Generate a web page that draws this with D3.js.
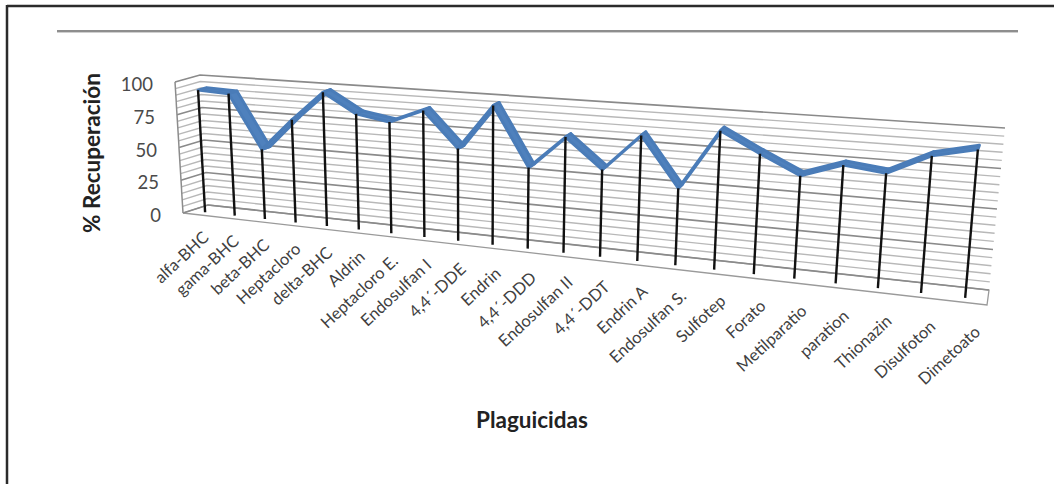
<!DOCTYPE html>
<html>
<head>
<meta charset="utf-8">
<script src="https://cdn.jsdelivr.net/npm/d3@7"></script>
<style>
  body { margin: 0; background: #fff; }
  svg { display: block; }
  text { font-family: Lato, "Open Sans", sans-serif; }
</style>
</head>
<body>
<svg id="chart" width="1054" height="484"></svg>
<script>
// Pesticide recovery data
const categories = ["alfa-BHC", "gama-BHC", "beta-BHC", "Heptacloro", "delta-BHC", "Aldrin",
  "Heptacloro E.", "Endosulfan I", "4,4´-DDE", "Endrin", "4,4´-DDD", "Endosulfan II",
  "4,4´-DDT", "Endrin A", "Endosulfan S.", "Sulfotep", "Forato", "Metilparatio",
  "paration", "Thionazin", "Disulfoton", "Dimetoato"];
const recovery = [93, 92, 52, 76, 98, 84, 80, 90, 65, 97, 56, 79, 59, 84, 51, 91, 78, 66, 75, 72, 85, 91];
const valueTicks = [0, 25, 50, 75, 100];
const gridValues = d3.range(0, 101, 5);

const svg = d3.select("#chart");

// Scales in normalized box space
const x = d3.scalePoint().domain(categories).range([0, 1]).padding(0.5);
const y = d3.scaleLinear().domain([0, 100]).range([0, 1]);

// Screen corners of the 3D plot box (front/back, left/right, bottom/top)
const box = {
  flb: [183, 213], flt: [175, 82], blb: [208, 205], blt: [200, 75],
  frb: [987, 305], frt: [1001, 140], brb: [989, 290], brt: [1005, 128]
};
const persp = -0.197;
const warp = u => u * (1 + persp) / (1 + persp * u);
const lerp = (a, b, s) => [a[0] + (b[0] - a[0]) * s, a[1] + (b[1] - a[1]) * s];
function project(u, t, d) {
  const g = warp(u);
  const fb = lerp(box.flb, box.frb, g), ft = lerp(box.flt, box.frt, g);
  const bb = lerp(box.blb, box.brb, g), bt = lerp(box.blt, box.brt, g);
  return lerp(lerp(fb, ft, t), lerp(bb, bt, t), d);
}
const line = d3.line();

// Outer frame and header rule
svg.append("line").attr("x1", 7).attr("y1", 6).attr("x2", 1054).attr("y2", 6)
  .attr("stroke", "#2b2b2b").attr("stroke-width", 2.5);
svg.append("line").attr("x1", 7).attr("y1", 5).attr("x2", 7).attr("y2", 484)
  .attr("stroke", "#2b2b2b").attr("stroke-width", 2.5);
svg.append("rect").attr("x", 57).attr("y", 30).attr("width", 961).attr("height", 2).attr("fill", "#8e8e8e");
svg.append("rect").attr("x", 57).attr("y", 32).attr("width", 961).attr("height", 1).attr("fill", "#cfcfcf");

// Floor
const floorPts = [project(0, 0, 0), project(1, 0, 0), project(1, 0, 1), project(0, 0, 1)];
svg.append("path").attr("d", line(floorPts) + "Z")
  .attr("fill", "#fff").attr("stroke", "#9a9a9a").attr("stroke-width", 1.3);

// Wall gridlines (side wall + back wall)
svg.append("g").selectAll("path").data(gridValues).join("path")
  .attr("d", v => line([project(0, y(v), 0), project(0, y(v), 1), project(1, y(v), 1)]))
  .attr("fill", "none")
  .attr("stroke", v => v % 25 === 0 ? "#8a8a8a" : "#b8b8b8")
  .attr("stroke-width", v => v % 25 === 0 ? 1.7 : 1.4);

// Value axis line
svg.append("path").attr("d", line([project(0, 0, 0), project(0, 1, 0)]))
  .attr("stroke", "#8c8c8c").attr("stroke-width", 1.5);

// Value tick labels
svg.append("g").selectAll("text").data(valueTicks).join("text")
  .attr("x", v => project(0, y(v), 0)[0] - 22)
  .attr("y", v => project(0, y(v), 0)[1] + 2)
  .attr("text-anchor", "end").attr("dominant-baseline", "central")
  .attr("font-size", 18.5).attr("fill", "#4a4a4a")
  .text(v => v);

// Ribbon
const dFront = 0.3, dBack = 0.65;
const pts = categories.map((c, i) => ({ u: x(c), t: y(recovery[i]) }));
const segs = d3.pairs(pts);
svg.append("g").selectAll("path").data(segs).join("path")
  .attr("d", ([a, b]) => line([project(a.u, a.t, dFront), project(b.u, b.t, dFront),
    project(b.u, b.t, dBack), project(a.u, a.t, dBack)]) + "Z")
  .attr("fill", "#4f81bd").attr("stroke", "#4a7cb8").attr("stroke-width", 3)
  .attr("stroke-linejoin", "round");

// Drop lines
svg.append("g").selectAll("path").data(pts).join("path")
  .attr("d", p => line([project(p.u, p.t, dFront), project(p.u, 0, dFront)]))
  .attr("stroke", "#111").attr("stroke-width", 2.4);

// Category labels
svg.append("g").selectAll("text").data(categories).join("text")
  .attr("transform", c => {
    const u = x(c), p = project(u, 0, 0);
    return `translate(${p[0] + 12 + 5 * u},${p[1] + 24 + 7 * u}) rotate(-43)`;
  })
  .attr("text-anchor", "end").attr("font-size", 16.5).attr("fill", "#404040")
  .text(c => c);

// Axis titles
svg.append("text").attr("transform", "translate(100,153) rotate(-90)")
  .attr("text-anchor", "middle").attr("font-size", 22.5).attr("font-weight", "bold").attr("fill", "#222")
  .text("% Recuperación");
svg.append("text").attr("x", 532).attr("y", 428)
  .attr("text-anchor", "middle").attr("font-size", 22.5).attr("font-weight", "bold").attr("fill", "#222")
  .text("Plaguicidas");
</script>
</body>
</html>
